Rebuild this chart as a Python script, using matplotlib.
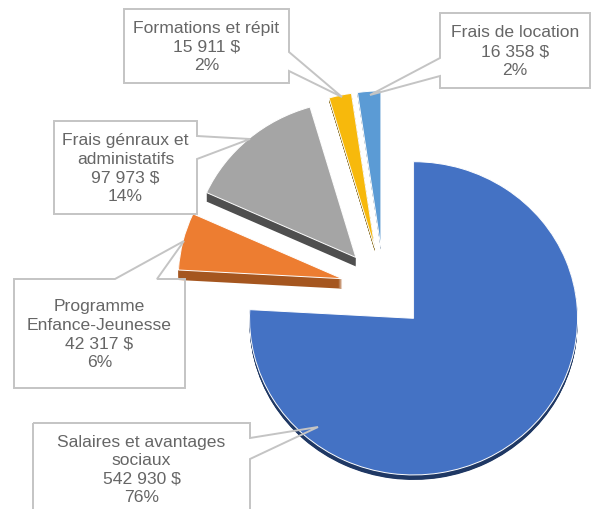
import matplotlib
matplotlib.use("Agg")
import matplotlib.pyplot as plt
from matplotlib.patches import Polygon

# --- data ---
categories = ["Salaires et avantages\nsociaux", "Programme\nEnfance-Jeunesse",
              "Frais génraux et\nadministatifs", "Formations et répit", "Frais de location"]
values = [542930, 42317, 97973, 15911, 16358]
value_labels = ["542 930 $", "42 317 $", "97 973 $", "15 911 $", "16 358 $"]
percent_labels = ["76%", "6%", "14%", "2%", "2%"]
colors = ["#4472C4", "#ED7D31", "#A5A5A5", "#F7B90C", "#5B9BD5"]
side_colors = ["#1F3864", "#A5561F", "#4F4F4F", "#7A5C06", "#8A9BAD"]
depths = [5, 10, 9, 3, 2]

W, H = 594, 510
RADIUS = 164
YSCALE = 0.955
EXPLODE = 43
CENTER_PX = (384, 289.5)

# callouts: box (x0, y0, x1, y1), side, pointer base a, pointer base b, tip (pixels)
callouts = [
    ((33, 424, 250, 516), "right", 439, 460, (318, 428)),
    ((14, 280, 185, 389), "top", 115, 157, (184, 242)),
    ((54, 122, 197, 215), "right", 137, 160, (250, 140)),
    ((124, 10, 289, 84), "right", 53, 72, (342, 98)),
    ((440, 14, 590, 89), "left", 59, 77, (370, 96)),
]

fig = plt.figure(figsize=(W / 100, H / 100), dpi=100, facecolor="white")
ax = fig.add_axes([0, 0, 1, 1])
center = (CENTER_PX[0], (H - CENTER_PX[1]) / YSCALE)


def draw(cols, edge=None, lw=0):
    wedges, _ = ax.pie(values, explode=[EXPLODE] * len(values), startangle=90,
                       counterclock=False, colors=cols, radius=RADIUS, center=center,
                       frame=True, wedgeprops=dict(edgecolor=edge, linewidth=lw))
    return wedges


for step in range(10, 0, -1):
    frac = step / 10
    for w, d in zip(draw(side_colors, None, 0), depths):
        cx, cy = w.center
        w.set_center((cx, cy - frac * d / YSCALE))
draw(colors, "white", 0.7)

ax.set_aspect("auto")
ax.set_xlim(0, W)
ax.set_ylim(0, H / YSCALE)
ax.axis("off")

fx = lambda x: x / W
fy = lambda y: 1 - y / H
for (box, side, a, b, tip), name, val, pct in zip(callouts, categories, value_labels, percent_labels):
    x0, y0, x1, y1 = box
    if side == "right":
        pts = [(x0, y0), (x1, y0), (x1, a), tip, (x1, b), (x1, y1), (x0, y1)]
    elif side == "left":
        pts = [(x0, y0), (x1, y0), (x1, y1), (x0, y1), (x0, b), tip, (x0, a)]
    else:
        pts = [(x0, y0), (a, y0), tip, (b, y0), (x1, y0), (x1, y1), (x0, y1)]
    fig.add_artist(Polygon([(fx(p), fy(q)) for p, q in pts], closed=True, transform=fig.transFigure,
                           facecolor="none", edgecolor="#C4C4C4", linewidth=1.4))
    ytext = (y0 + y1) / 2
    fig.text(fx((x0 + x1) / 2), fy(ytext), f"{name}\n{val}\n{pct}", ha="center", va="center",
             family="Liberation Sans", fontsize=12.6, color="#666666", linespacing=1.3)

fig.savefig("out.png", dpi=100, facecolor="white")
